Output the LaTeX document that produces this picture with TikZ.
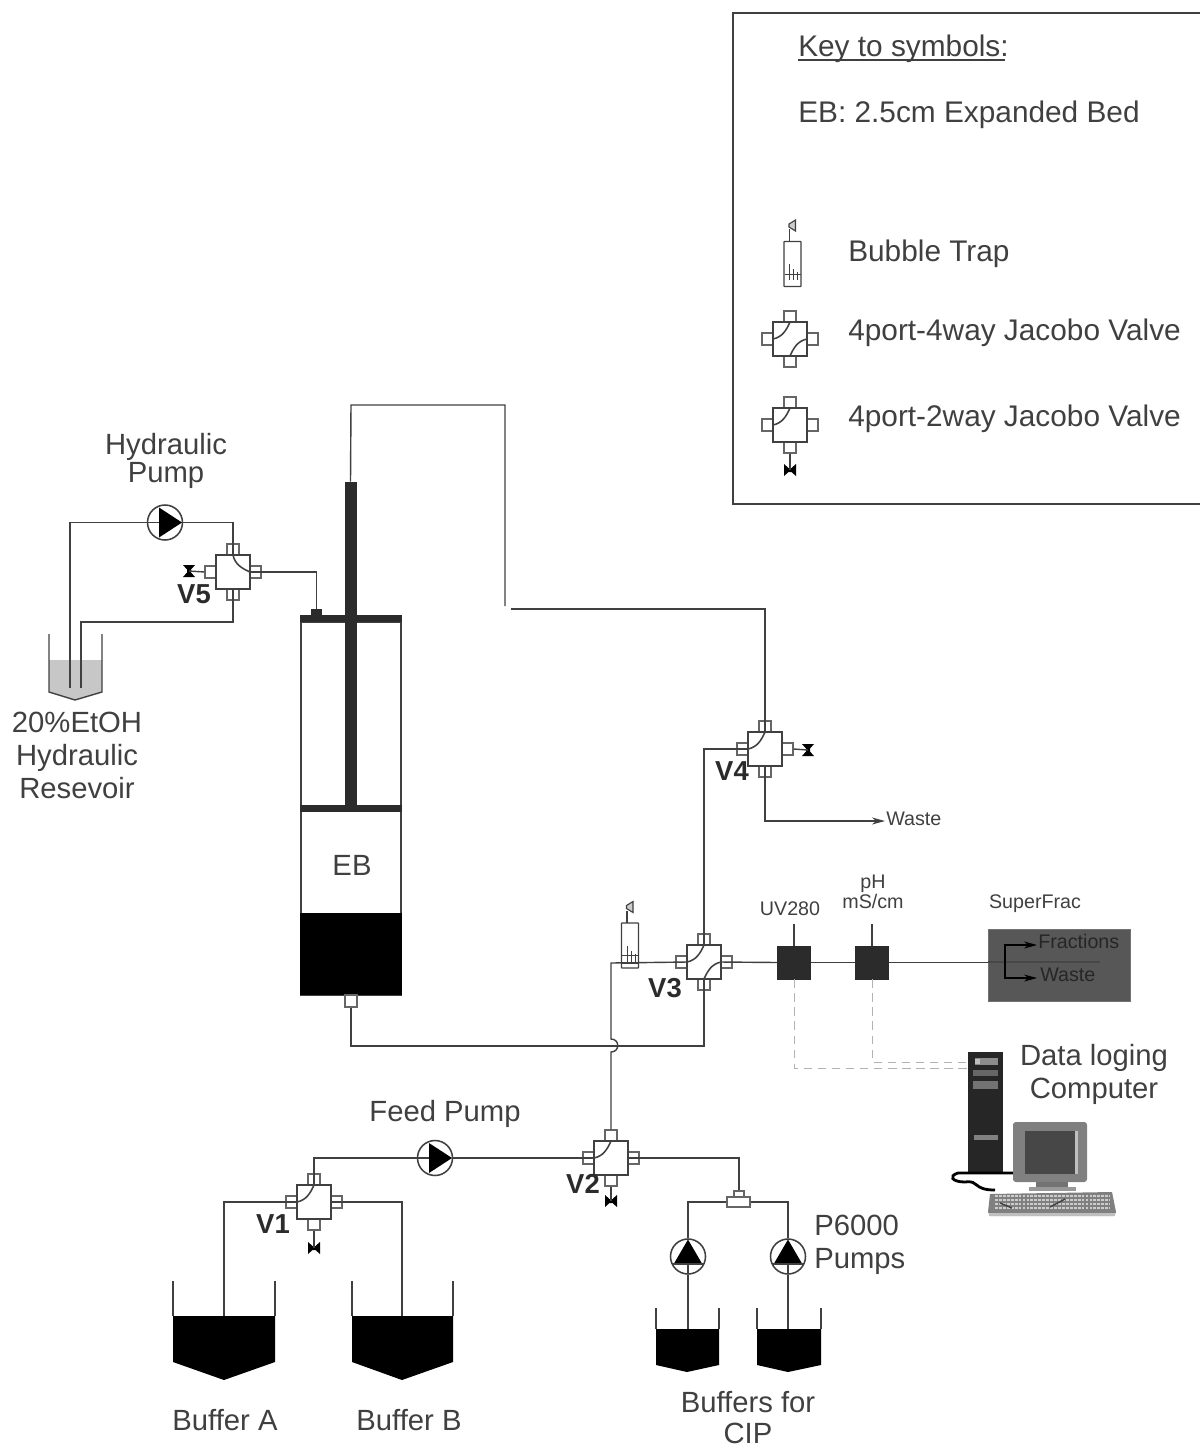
\documentclass[tikz,border=0pt]{standalone}
\usepackage{fontspec}
\setmainfont{Liberation Sans}
\usetikzlibrary{arrows.meta}
\definecolor{ink}{gray}{0.25}
\definecolor{txt}{gray}{0.25}
\definecolor{solid}{gray}{0.17}
\newcommand{\valvebase}{%
  \node[vport,minimum width=12*0.025cm,minimum height=11*0.025cm] (-n) at (0,-22.5) {};
  \node[vport,minimum width=12*0.025cm,minimum height=11*0.025cm] (-s) at (0,22.5) {};
  \node[vport,minimum width=11*0.025cm,minimum height=12*0.025cm] (-e) at (22.5,0) {};
  \node[vport,minimum width=11*0.025cm,minimum height=12*0.025cm] (-w) at (-22.5,0) {};
  \node[vbody] (-b) at (0,0) {};}
\newcommand{\curvenw}{\draw[pipe] (-17,0) .. controls (-8,-2) and (-4,-8) .. (0,-17);}
\newcommand{\curvese}{\draw[pipe] (17,0) .. controls (8,2) and (4,8) .. (0,17);}
\newcommand{\curvene}{\draw[pipe] (0,-17) .. controls (2,-8) and (8,-4) .. (17,0);}
\tikzset{
  x=0.025cm,y=-0.025cm,
  pipe/.style={draw=ink,line width=1.1pt},
  thinpipe/.style={draw=ink,line width=1pt},
  vbody/.style={draw=ink,fill=white,line width=1.1pt,minimum size=34*0.025cm,inner sep=0pt},
  vport/.style={draw=ink!80,fill=white,line width=0.9pt,inner sep=0pt},
  pumpc/.style={circle,draw=ink,fill=white,line width=1.1pt,minimum size=35*0.025cm,inner sep=0pt},
  senbox/.style={fill=solid,draw=solid,minimum size=33*0.025cm,inner sep=0pt},
  lab/.style={text=txt,font=\fontsize{20.8}{23.5}\selectfont,inner sep=0pt,align=center},
  keylab/.style={text=txt,font=\fontsize{21.2}{24}\selectfont,inner sep=0pt,anchor=west},
  small/.style={text=txt,font=\fontsize{14}{15}\selectfont,inner sep=0pt,align=center},
  vlab/.style={text=solid,font=\fontsize{19.5}{20}\selectfont\bfseries,inner sep=0pt},
  sig/.style={draw=black!30,line width=0.7pt,dash pattern=on 6pt off 4pt},
  arr/.style={-{Stealth[length=13*0.025cm,width=7*0.025cm]}},
  valvenw/.pic={\valvebase\curvenw},
  valvene/.pic={\valvebase\curvene},
  valvenwse/.pic={\valvebase\curvenw\curvese},
  tiebar/.pic={\coordinate (-m) at (0,0); \fill[solid] (-6,-6)--(-1.5,-2)--(1.5,-2)--(6,-6)--(6,6)--(1.5,2)--(-1.5,2)--(-6,6)--cycle;},
  tievert/.pic={\coordinate (-m) at (0,0); \fill[solid] (-6,-6)--(6,-6)--(2,-1.5)--(2,1.5)--(6,6)--(-6,6)--(-2,1.5)--(-2,-1.5)--cycle;},
  pumpright/.pic={\node[pumpc] (-c) at (0,0) {};
    \fill[solid] (-6,-15)--(17,0)--(-6,15)--cycle;
    \draw[thinpipe] (-17,0)--(-6,0);},
  pumpup/.pic={\node[pumpc] (-c) at (0,0) {};
    \fill[solid] (-14,7)--(0,-17)--(14,7)--cycle;
    \draw[thinpipe] (-16,7.5)--(16,7.5) (0,7.5)--(0,17);},
  bubbletrap/.pic={\node[draw=ink,fill=white,line width=0.9pt,rounded corners=0.4pt,minimum width=17*0.025cm,minimum height=45*0.025cm,inner sep=0pt] (-b) at (0,0) {};
    \draw[line width=0.8pt,draw=ink] (-3,-22.5)--(-3,-35);
    \draw[line width=0.8pt,draw=ink,fill=black!20] (-3.5,-40)--(3,-44)--(3,-33)--(-3.5,-37)--cycle;
    \draw[line width=0.6pt,draw=ink] (-8,10)--(8,10) (-3,0)--(-3,16) (1,5)--(1,16) (5,8)--(5,16);},
}
\begin{document}
\begin{tikzpicture}
\useasboundingbox (0,0) rectangle (1200,1449);
\clip (0,0) rectangle (1200,1449);

% Key
\draw[ink,line width=0.9pt] (1200,13)--(733,13)--(733,504)--(1200,504);
\node[keylab] (keyt) at (798,49) {Key to symbols:};
\draw[txt,line width=0.8pt] (798,60)--(1005,60);
\node[keylab] (keye) at (798,115) {EB: 2.5cm Expanded Bed};
\pic (kb) at (792.5,264) {bubbletrap};
\node[keylab] (keyb) at (848,253.5) {Bubble Trap};
\pic (k4) at (790,339) {valvenwse};
\node[keylab] (key4) at (848,332.5) {4port-4way Jacobo Valve};
\pic (k2) at (790,425) {valvenw};
\node[keylab] (key2) at (848,418.5) {4port-2way Jacobo Valve};
\pic (ktie) at (790,470) {tiebar};
\draw[thinpipe] (k2-s.south)--(ktie-m);

% Cylinder
\node[draw=ink,fill=white,line width=0.9pt,minimum width=100*0.025cm,minimum height=373*0.025cm,inner sep=0pt] (cyl) at (351,808.5) {};
\fill[solid] (300,913) rectangle (402,995);
\node[fill=solid,minimum width=102*0.025cm,minimum height=7*0.025cm,inner sep=0pt] (plate) at (351,618.5) {};
\node[fill=solid,minimum width=102*0.025cm,minimum height=7*0.025cm,inner sep=0pt] (piston) at (351,808.5) {};
\node[fill=solid,minimum width=12*0.025cm,minimum height=323*0.025cm,inner sep=0pt] (rod) at (350.5,643.5) {};
\node[fill=solid,minimum width=11*0.025cm,minimum height=6*0.025cm,inner sep=0pt] (bump) at (316.5,612) {};
\node[vport,minimum width=12*0.025cm,minimum height=12*0.025cm] (bport) at (351,1001) {};
\node[lab] (eb) at (352,865) {EB};

% Valves
\pic (v5) at (233,572) {valvene};
\pic (v4) at (765,749) {valvenw};
\pic (v3) at (704,962) {valvenwse};
\pic (v2) at (611,1158) {valvenw};
\pic (v1) at (314,1202) {valvenw};
\pic (t5) at (189,571) {tievert};
\pic (t4) at (808,750) {tievert};
\pic (t2) at (611,1201) {tiebar};
\pic (t1) at (314,1248) {tiebar};
\draw[thinpipe] (v5-w.west)--(t5-m);
\draw[thinpipe] (v4-e.east)--(t4-m);
\draw[thinpipe] (v2-s.south)--(t2-m);
\draw[thinpipe] (v1-s.south)--(t1-m);

% Pumps
\pic (hp) at (165,522.5) {pumpright};
\pic (fp) at (435,1158) {pumpright};
\pic (p1) at (688,1256.5) {pumpup};
\pic (p2) at (788,1256.5) {pumpup};

% Tanks
\coordinate (res1) at (70,688);
\coordinate (res2) at (81,688);
\coordinate (res2t) at (81,622);
\fill[black!22] (49,660)--(102,660)--(102,692)--(75,700)--(49,692)--cycle;
\draw[thinpipe] (49,634)--(49,692)--(75,700)--(102,692)--(102,634);
\fill[solid] (173,1316)--(275,1316)--(275,1362)--(224,1380)--(173,1362)--cycle;
\draw[thinpipe] (173,1281)--(173,1316) (275,1281)--(275,1316);
\fill[solid] (352,1316)--(453,1316)--(453,1362)--(402,1380)--(352,1362)--cycle;
\draw[thinpipe] (352,1281)--(352,1316) (453,1281)--(453,1316);
\fill[solid] (656,1329)--(719,1329)--(719,1365)--(687,1372)--(656,1365)--cycle;
\draw[thinpipe] (656,1308)--(656,1329) (719,1308)--(719,1329);
\fill[solid] (757,1329)--(821,1329)--(821,1365)--(788,1372)--(757,1365)--cycle;
\draw[thinpipe] (757,1308)--(757,1329) (821,1308)--(821,1329);
\coordinate (ba) at (224,1316);
\coordinate (bb) at (402,1316);
\coordinate (c1) at (688,1329);
\coordinate (c2) at (788,1329);

% T piece
\node[vport,minimum width=10*0.025cm,minimum height=7*0.025cm] (tt) at (739,1194.5) {};
\node[vport,minimum width=23*0.025cm,minimum height=10*0.025cm] (tb) at (738.5,1202) {};

% Pipes
\draw[thinpipe] (hp-c.west)-|(res1);
\draw[thinpipe] (hp-c.east)-|(v5-n.south);
\draw[thinpipe] (v5-s.north)|-(res2t)--(res2);
\draw[thinpipe] (v5-e.west)-|(bump.north);
\coordinate (ctop) at (505,405);
\coordinate (cmid) at (505,606);
\coordinate (cmid0) at (511,609);
\coordinate (ctop0) at (351,405);
\coordinate (cmid1) at (765,609);
\draw[thinpipe] (rod.north)--(ctop0)--(ctop)--(cmid);
\draw[thinpipe] (cmid0)--(cmid1)--(v4-n.south);
\draw[thinpipe] (v4-w.east)-|(v3-n.south);
\coordinate (wst) at (885,821);
\draw[thinpipe,arr] (v4-s.north)|-(wst);
\coordinate (hop) at (704,1046);
\draw[thinpipe] (bport.south)|-(hop)--(v3-s.north);
\coordinate (cross) at (611,963);
\coordinate (hopa) at (611,1039);
\coordinate (hopb) at (611,1052);
\draw[thinpipe] (v3-w.east)--(cross)--(hopa) .. controls (620,1039) and (620,1052) .. (hopb)--(v2-n.north);
\draw[thinpipe] (v1-n.south)|-(fp-c.west);
\draw[thinpipe] (fp-c.east)--(v2-w.east);
\draw[thinpipe] (v1-w.east)-|(ba);
\draw[thinpipe] (v1-e.west)-|(bb);
\draw[thinpipe] (v2-e.west)-|(tt.north);
\draw[thinpipe] (tb.west)-|(p1-c.north);
\draw[thinpipe] (tb.east)-|(p2-c.north);
\draw[thinpipe] (p1-c.south)--(c1);
\draw[thinpipe] (p2-c.south)--(c2);

% Bubble trap on V3 line
\pic (bt) at (630,945.5) {bubbletrap};
\draw[thinpipe] (bt-b.west|-cross)--(bt-b.east|-cross);

% Sensors
\node[senbox] (uv) at (794,962.5) {};
\node[senbox] (ph) at (872,962.5) {};
\coordinate (uvt) at (794,924);
\coordinate (pht) at (872,924);
\draw[thinpipe] (uv.north)--(uvt);
\draw[thinpipe] (ph.north)--(pht);
\node[draw=black!55,fill=black!66,minimum width=142*0.025cm,minimum height=72*0.025cm,inner sep=0pt] (sf) at (1059,965) {};
\draw[thinpipe] (v3-e.west)--(uv.west);
\draw[thinpipe] (uv.east)--(ph.west);
\draw[thinpipe] (ph.east)--(sf.west|-ph);
\coordinate (sfj) at (1005,962);
\coordinate (sfa) at (1037,945);
\coordinate (sfb) at (1037,978);
\coordinate (sfe) at (1100,962);
\draw[black!72,line width=0.8pt] (sf.west|-sfj)--(sfe);
\draw[solid,line width=0.8pt,arr] (sfj)|-(sfa);
\draw[solid,line width=0.8pt,arr] (sfj)|-(sfb);
\node[text=black!85,font=\fontsize{14}{16}\selectfont,inner sep=0pt,anchor=west] (sft) at (1038,941) {Fractions};
\node[text=black!85,font=\fontsize{14}{16}\selectfont,inner sep=0pt,anchor=west] (sfw) at (1040,975) {Waste};

% Computer
\node[fill=black!85,minimum width=35*0.025cm,minimum height=122*0.025cm,inner sep=0pt] (tower) at (985.5,1112.5) {};
\fill[black!45] (975,1058) rectangle (998,1065);
\fill[black!60] (973,1070) rectangle (998,1076);
\fill[black!55] (973,1081) rectangle (998,1089);
\fill[black!50] (974,1135) rectangle (998,1140);
\fill[black!25] (975,1059) rectangle (980,1064);
\draw[solid,line width=2pt] (1014,1173)--(958,1173) .. controls (948,1176) and (952,1182) .. (965,1182) .. controls (980,1180) and (972,1190) .. (995,1190);
\node[fill=black!50,rounded corners=2pt,minimum width=74*0.025cm,minimum height=60*0.025cm,inner sep=0pt] (mon) at (1050,1152) {};
\fill[black!72] (1025,1131) rectangle (1077,1174);
\fill[black!25] (1075,1131) rectangle (1078,1174);
\fill[black!55] (1036,1182) rectangle (1068,1187);
\fill[black!40] (1029,1187) rectangle (1076,1191);
\fill[black!50] (990,1194)--(1112,1192)--(1116,1212)--(1114,1216)--(990,1216)--(988,1212)--cycle;
\foreach \yy in {1196,1200,1204,1208}{\draw[black!20,line width=0.9pt,dash pattern=on 2pt off 0.8pt] (995,\yy)--(1110,\yy);}
\draw[black!75,line width=1pt] (1000,1203)--(1012,1208) (1050,1207)--(1065,1199);
\fill[black!25] (989,1213) rectangle (1115,1216);

% Signal lines
\coordinate (s1) at (794,1068);
\coordinate (s2) at (872,1062);
\coordinate (tw1) at (968,1068);
\coordinate (tw2) at (968,1062);
\draw[sig] (uv.south)--(s1)--(tw1);
\draw[sig] (ph.south)--(s2)--(tw2);

% Labels
\node[lab] (lhp) at (166,461) {Hydraulic\\[-3pt]Pump};
\node[lab] (lres) at (77,755) {20\%EtOH\\Hydraulic\\Resevoir};
\node[vlab] (l5) at (194,594) {V5};
\node[vlab] (l4) at (732,771) {V4};
\node[vlab] (l3) at (665,988) {V3};
\node[vlab] (l2) at (583,1184) {V2};
\node[vlab] (l1) at (273,1224) {V1};
\node[small,anchor=west] (lw) at (886,819) {Waste};
\node[small] (luv) at (790,909) {UV280};
\node[small,font=\fontsize{14}{14.5}\selectfont] (lph) at (873,892) {pH\\mS/cm};
\node[small] (lsf) at (1035,904) {SuperFrac};
\node[lab] (lcomp) at (1094,1074) {Data loging\\Computer};
\node[lab] (lfp) at (445,1114) {Feed Pump};
\node[lab,align=left,anchor=west] (lp6) at (814,1245) {P6000\\Pumps};
\node[lab] (lba) at (225,1420) {Buffer A};
\node[lab] (lbb) at (409,1420) {Buffer B};
\node[lab] (lcip) at (748,1417.5) {Buffers for\\[-1.5pt]CIP};
\end{tikzpicture}
\end{document}
